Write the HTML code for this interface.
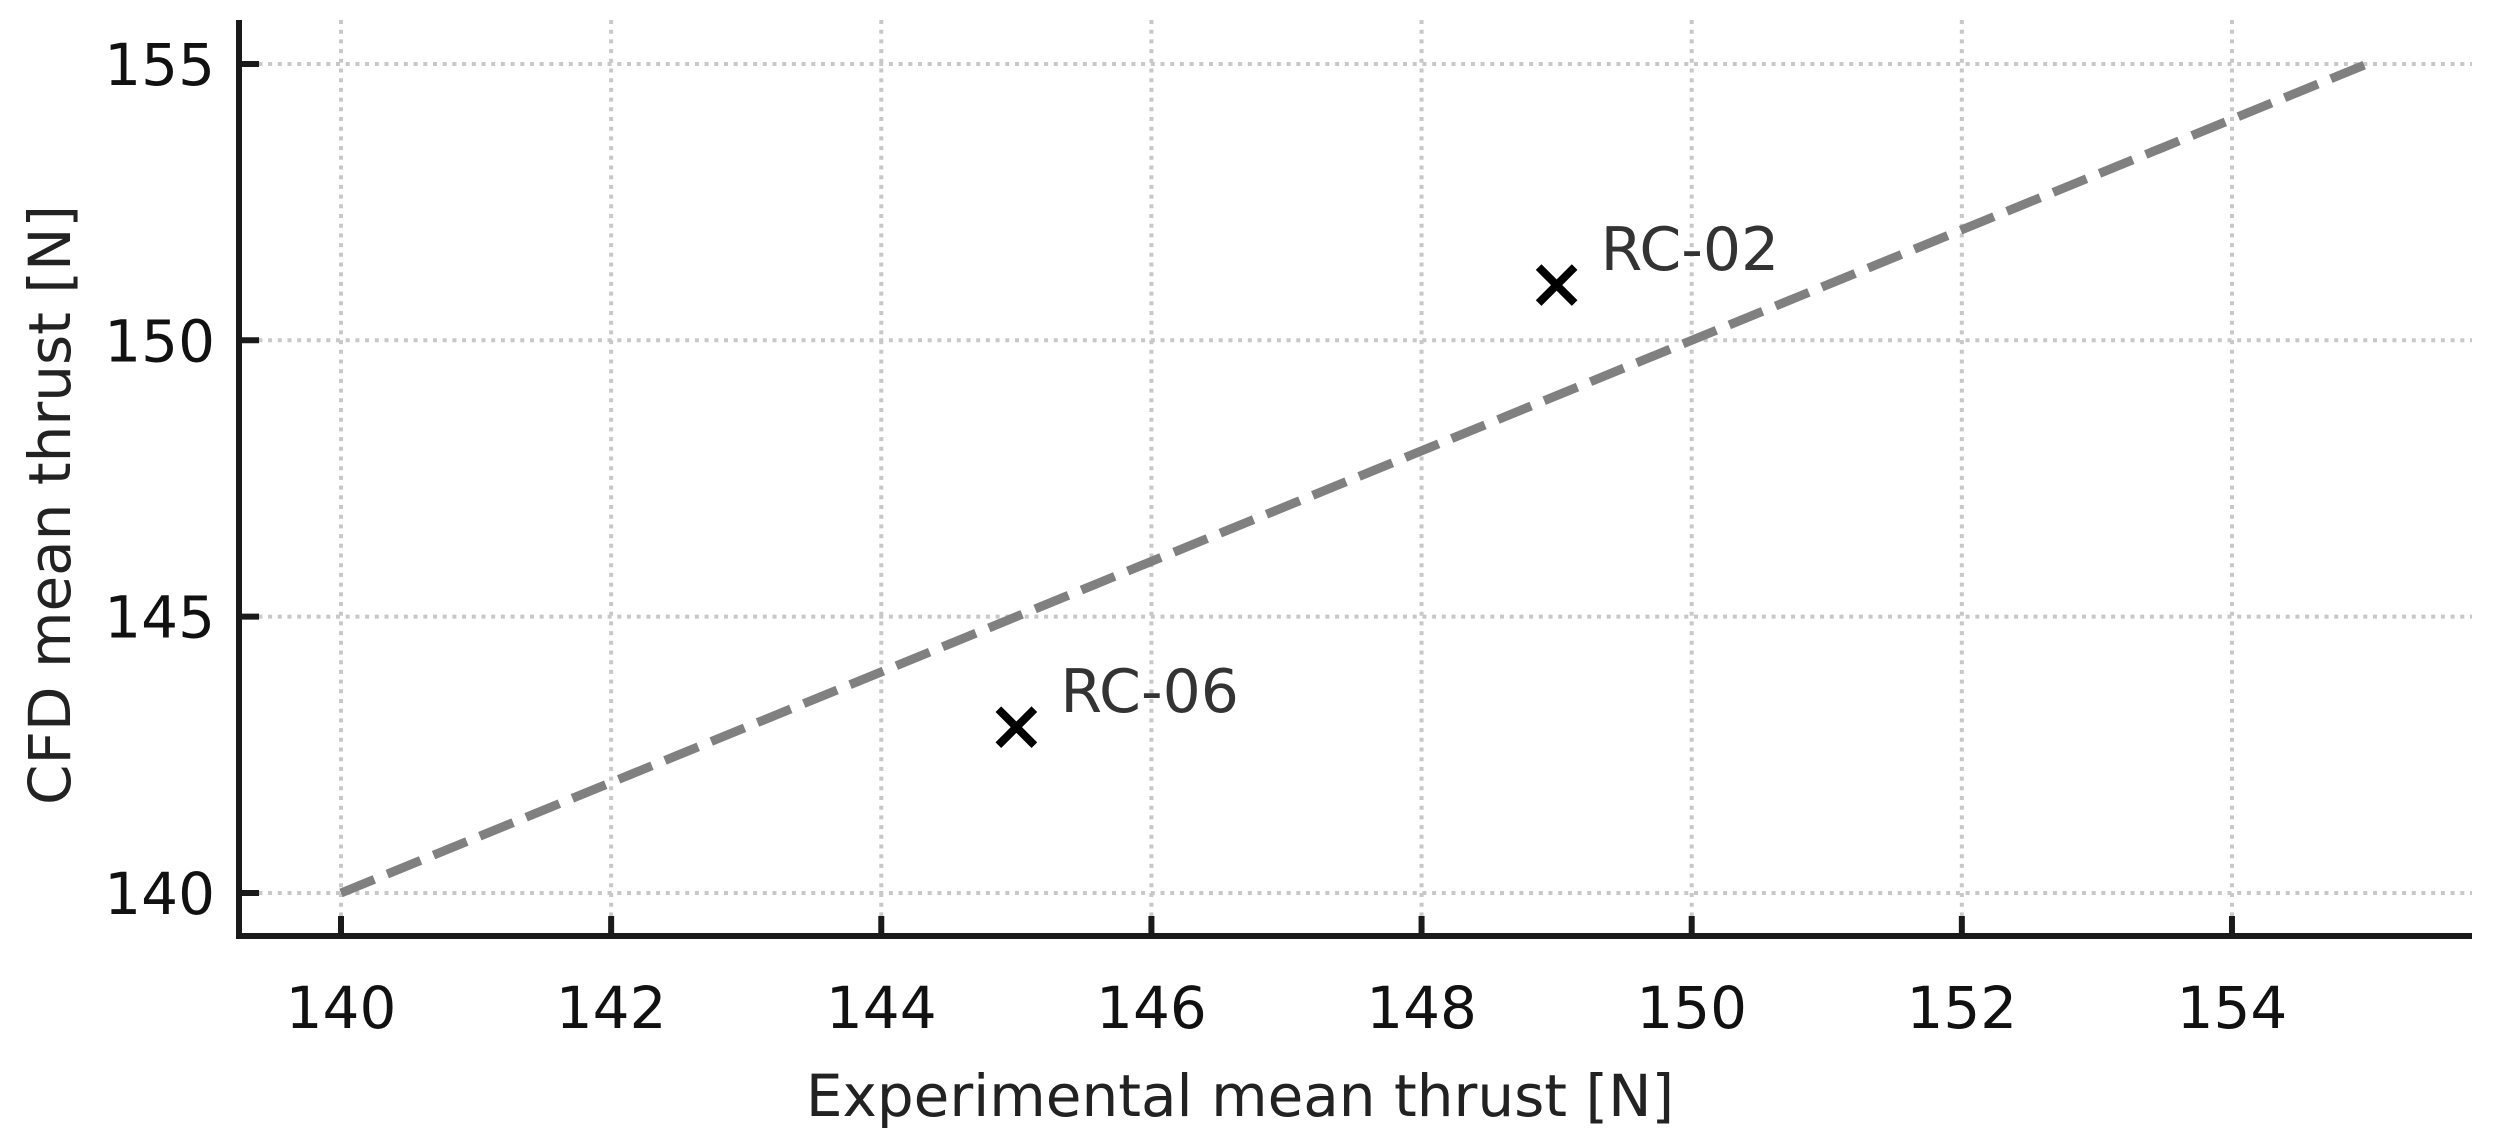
<!DOCTYPE html>
<html><head><meta charset="utf-8"><style>
html,body{margin:0;padding:0;background:#fff;}
svg{display:block;font-family:"DejaVu Sans","Liberation Sans",sans-serif;}
</style></head><body>
<svg id="chart" width="2495" height="1148" viewBox="0 0 2495 1148"></svg>
<script>
const xTicks = [140,142,144,146,148,150,152,154];
const yTicks = [140,145,150,155];
const refLineX = [140,155];
const refLineY = [140,155];
const pointNames = ["RC-02","RC-06"];
const pointX = [149,145];
const pointY = [151,143];

const X0=341, XS=135.07, Y0=893, YS=55.27;
function sx(v){return X0+(v-140)*XS;}
function sy(v){return Y0-(v-140)*YS;}
const NS="http://www.w3.org/2000/svg";
const svg=document.getElementById('chart');
function mk(tag,attrs,parent){const e=document.createElementNS(NS,tag);for(const k in attrs)e.setAttribute(k,attrs[k]);(parent||svg).appendChild(e);return e;}

const grid=mk('g',{});


xTicks.forEach(t=>{const l=mk('line',{x1:sx(t),x2:sx(t),y1:20,y2:936,stroke:'#c8c8c8','stroke-width':4,'stroke-dasharray':'4 5.7'},grid);

});
yTicks.forEach(t=>{const l=mk('line',{x1:239,x2:2472,y1:sy(t),y2:sy(t),stroke:'#c8c8c8','stroke-width':4,'stroke-dasharray':'4 5.7'},grid);

});

const ref=mk('line',{x1:sx(refLineX[0]),y1:sy(refLineY[0]),x2:sx(refLineX[1]),y2:sy(refLineY[1]),stroke:'#808080','stroke-width':9,'stroke-dasharray':'36 14'});



const axes=mk('g',{stroke:'#1a1a1a','stroke-width':6});


mk('line',{x1:239,y1:20,x2:239,y2:939},axes);
mk('line',{x1:236,y1:936,x2:2472,y2:936},axes);
xTicks.forEach(t=>{mk('line',{x1:sx(t),x2:sx(t),y1:936,y2:916},axes);
const tx=mk('text',{x:sx(t),y:1028,'text-anchor':'middle','font-size':58,fill:'#111',stroke:'none'});tx.textContent=t;

});
yTicks.forEach(t=>{mk('line',{x1:239,x2:259,y1:sy(t),y2:sy(t)},axes);
const tx=mk('text',{x:215,y:sy(t)+21,'text-anchor':'end','font-size':58,fill:'#111',stroke:'none'});tx.textContent=t;

});

pointNames.forEach((n,i)=>{const cx=sx(pointX[i]),cy=sy(pointY[i]);
const g=mk('g',{});


mk('path',{d:`M${cx-18} ${cy-18}L${cx+18} ${cy+18}M${cx-18} ${cy+18}L${cx+18} ${cy-18}`,stroke:'#000','stroke-width':8},g);
const tx=mk('text',{x:cx+44,y:cy-15,'font-size':60,fill:'#333'},g);tx.textContent=n;

});

const xl=mk('text',{x:1240,y:1116,'text-anchor':'middle','font-size':58,fill:'#222'});xl.textContent='Experimental mean thrust [N]';


const yl=mk('text',{x:0,y:0,'text-anchor':'middle','font-size':58,fill:'#222',transform:'translate(70,505) rotate(-90)'});yl.textContent='CFD mean thrust [N]';


</script>
</body></html>
